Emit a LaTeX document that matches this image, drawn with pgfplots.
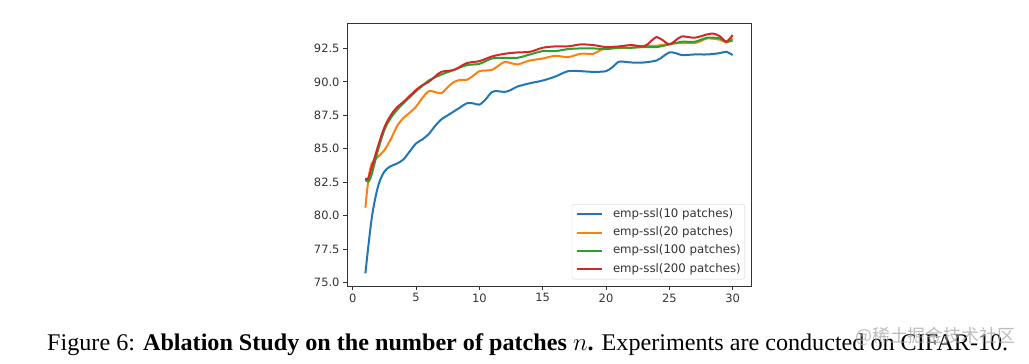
\documentclass[border=0pt]{standalone}
\usepackage{graphicx}
\usepackage{pgfplots}
\pgfplotsset{compat=1.18}
\usepackage{fontspec}
\setmainfont{Liberation Serif}
\newfontfamily\dejavu{DejaVu Sans}
\newfontfamily\cjk{Noto Sans CJK SC}
\definecolor{tabblue}{HTML}{1F77B4}
\definecolor{taborange}{HTML}{FF7F0E}
\definecolor{tabgreen}{HTML}{2CA02C}
\definecolor{tabred}{HTML}{D62728}
\begin{document}
\begin{tikzpicture}[x=1bp,y=1bp]
\path[use as bounding box] (0,0) rectangle (1029,363);
\begin{axis}[
  at={(347bp,77bp)}, anchor=south west,
  scale only axis, width=404bp, height=263bp,
  xmin=-0.45, xmax=31.45, ymin=74.75, ymax=94.4,
  xtick={0,5,10,15,20,25,30},
  ytick={75,77.5,80,82.5,85,87.5,90,92.5},
  tick align=outside, major tick length=4bp,
  tick pos=left,
  axis line style={black!80, line width=0.9bp},
  every tick/.style={black!80, line width=0.8bp},
  yticklabel style={/pgf/number format/.cd, fixed, fixed zerofill, precision=1},
  xticklabel style={/pgf/number format/.cd, fixed, precision=0},
  ticklabel style={font=\dejavu\fontsize{11.5}{12}\selectfont, text=black!80},
  /pgf/number format/assume math mode=true,
  legend cell align=left,
  legend image code/.code={\draw[#1] (0bp,0bp) -- (25bp,0bp);},
  legend style={at={(1,0)}, anchor=south east, xshift=-6bp, yshift=6.7bp,
    draw=black!18, rounded corners=2.5bp, fill=white, inner sep=4bp,
    row sep=6.3bp, column sep=10bp, font=\dejavu\fontsize{11.8}{12}\selectfont, text=black!80,
    nodes={inner sep=0pt, text height=9bp, text depth=3bp}},
  every axis plot/.append style={line width=2bp, smooth, tension=0.5},
]
\addplot[tabblue] coordinates {(1,75.7) (1.5,79.8) (2,82.2) (2.5,83.3) (3,83.7) (3.5,83.9) (4,84.2) (4.5,84.8) (5,85.4) (5.5,85.7) (6,86.1) (6.5,86.7) (7,87.2) (7.5,87.5) (8,87.8) (8.5,88.1) (9,88.4) (9.5,88.4) (10,88.3) (10.5,88.7) (11,89.25) (11.5,89.3) (12,89.25) (12.5,89.4) (13,89.65) (14,89.9) (15,90.1) (16,90.4) (17,90.8) (18,90.8) (19,90.75) (20,90.8) (20.5,91.1) (21,91.5) (21.5,91.5) (22,91.45) (23,91.45) (24,91.6) (24.5,91.9) (25,92.2) (25.5,92.15) (26,92.0) (27,92.05) (28,92.05) (29,92.15) (29.5,92.25) (30,92.0)};
\addlegendentry{emp-ssl(10 patches)}
\addplot[taborange] coordinates {(1,80.6) (1.25,82.8) (1.5,83.9) (2,84.4) (2.5,84.9) (3,85.7) (3.5,86.7) (4,87.3) (4.5,87.7) (5,88.15) (5.5,88.8) (6,89.3) (6.5,89.25) (7,89.15) (7.5,89.6) (8,90.0) (8.5,90.15) (9,90.15) (9.5,90.45) (10,90.8) (10.5,90.85) (11,90.9) (11.5,91.2) (12,91.5) (12.5,91.4) (13,91.3) (13.5,91.45) (14,91.6) (15,91.75) (16,91.95) (17,91.85) (18,92.1) (19,92.1) (19.5,92.35) (20,92.5) (21,92.55) (22,92.55) (23,92.7) (24,92.7) (25,92.85) (26,92.9) (27,92.9) (27.5,93.05) (28,93.25) (29,93.15) (29.5,92.95) (30,93.25)};
\addlegendentry{emp-ssl(20 patches)}
\addplot[tabgreen] coordinates {(1,82.7) (1.25,82.55) (1.5,83.1) (2,84.9) (2.5,86.4) (3,87.3) (3.5,87.9) (4,88.4) (5,89.3) (5.5,89.7) (6,90.1) (7,90.55) (8,90.9) (9,91.25) (10,91.35) (11,91.75) (12,91.8) (13,91.8) (14,92.05) (15,92.3) (16,92.3) (17,92.45) (18,92.5) (19,92.5) (20,92.45) (21,92.55) (22,92.55) (23,92.6) (24,92.6) (25,92.8) (26,93.0) (27,93.0) (28,93.3) (29,93.25) (29.5,93.0) (30,93.1)};
\addlegendentry{emp-ssl(100 patches)}
\addplot[tabred] coordinates {(1,82.8) (1.2,82.75) (1.5,83.6) (2,85.2) (2.5,86.6) (3,87.5) (3.5,88.1) (4,88.5) (5,89.4) (5.5,89.75) (6,90.0) (6.5,90.4) (7,90.75) (8,90.9) (9,91.4) (10,91.55) (11,91.9) (12,92.1) (13,92.2) (14,92.25) (15,92.55) (16,92.65) (17,92.65) (18,92.8) (19,92.75) (20,92.6) (21,92.65) (22,92.75) (23,92.65) (23.5,93.0) (24,93.35) (24.5,93.1) (25,92.8) (25.5,93.1) (26,93.4) (27,93.3) (28,93.55) (28.5,93.6) (29,93.4) (29.5,93.0) (30,93.5)};
\addlegendentry{emp-ssl(200 patches)}
\end{axis}
\node[anchor=base west, inner sep=0pt] at (47,13) {\resizebox{961bp}{\height}{\fontsize{24}{24}\selectfont Figure 6: \textbf{Ablation Study on the number of patches} $n$\textbf{.} Experiments are conducted on CIFAR-10.}};
\node[anchor=base west, inner sep=0pt, text=black!35, opacity=0.75] at (855,21) {\resizebox{160bp}{\height}{\cjk\fontsize{18}{18}\selectfont @稀土掘金技术社区}};
\end{tikzpicture}
\end{document}
